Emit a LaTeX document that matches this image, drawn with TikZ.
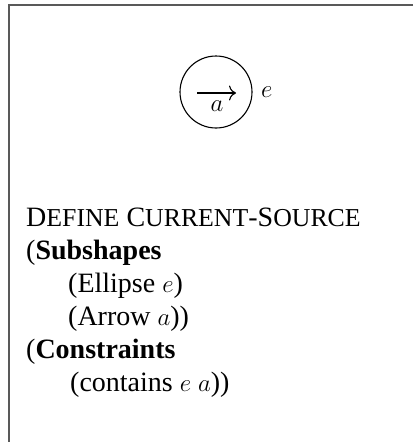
\documentclass[tikz,border=0pt]{standalone}
\usepackage{fontspec}
\setmainfont{Liberation Serif}
\usetikzlibrary{arrows.meta}
\newcommand{\fakesc}[2]{#1{\fontsize{25.8}{28}\selectfont #2}}
\tikzset{
  frameline/.style={draw=black!65, line width=1.5pt},
  txt/.style={anchor=base west, inner sep=0pt, font=\fontsize{28}{28}\selectfont},
  shapecircle/.style={circle, draw, line width=1.1pt, minimum size=72pt, inner sep=0pt},
  arrowline/.style={line width=1.1pt, -{To[length=7pt,width=15pt]}},
  mathlbl/.style={inner sep=0pt, font=\fontsize{28}{28}\selectfont}
}
\begin{document}
\begin{tikzpicture}[x=1pt, y=-1pt]
\useasboundingbox (0,0) rectangle (414,442);
\coordinate (tr) at (413,5);
\coordinate (tl) at (9,5);
\coordinate (bl) at (9,442);
\draw[frameline] (tr) -- (tl) -- (bl);
\node[shapecircle] (e) at (216,92) {};
\coordinate (as) at (197,93);
\coordinate (ae) at (236,93);
\draw[arrowline] (as) -- (ae);
\node[mathlbl, anchor=base] (alab) at (217,111) {$a$};
\node[mathlbl, anchor=base west] (elab) at (261,97) {$e$};
\node[txt] (l1) at (26,226) {\fakesc{D}{EFINE} \fakesc{C}{URRENT}-\fakesc{S}{OURCE}};
\node[txt] (l2) at (26,259) {(\textbf{Subshapes}};
\node[txt] (l3) at (68,292) {(Ellipse $e$)};
\node[txt] (l4) at (68,325) {(Arrow $a$))};
\node[txt] (l5) at (26,358) {(\textbf{Constraints}};
\node[txt] (l6) at (70,391) {(contains $e$ $a$))};
\end{tikzpicture}
\end{document}
